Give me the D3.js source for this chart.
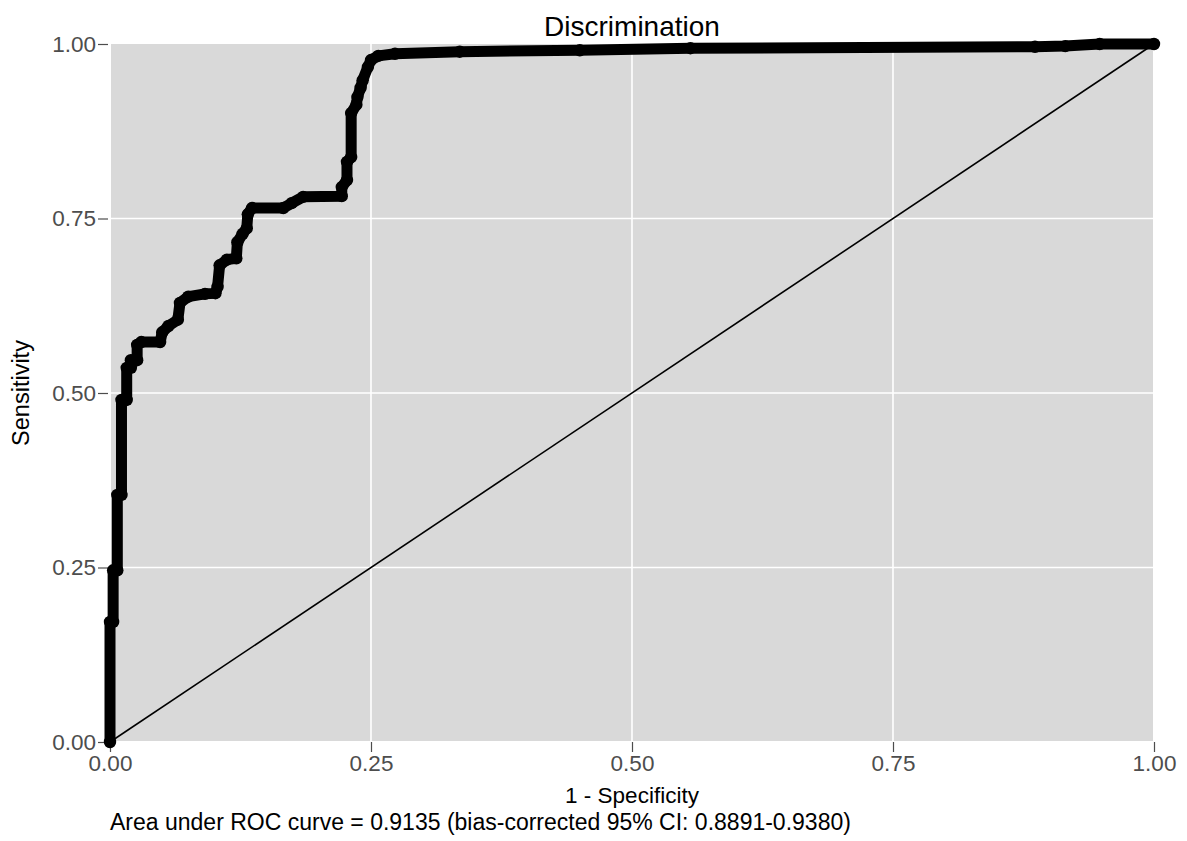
<!DOCTYPE html>
<html lang="en">
<head>
    <meta charset="UTF-8">
    <title>Discrimination</title>
    <script src="https://d3js.org/d3.v7.min.js"></script>
    <style>
        body {
            margin: 0;
            background-color: #fff;
            font-family: "Liberation Sans", Arial, sans-serif;
        }
        .tick-label {
            font-size: 22.5px;
            fill: #4d4d4d;
        }
        .axis-title {
            font-size: 22.5px;
            fill: #000;
        }
    </style>
</head>
<body>
    <div id="chart"></div>
    <script>
        // ROC curve vertices (1 - specificity, sensitivity)
        const fpr = [0, 0, 0.003, 0.003, 0.007, 0.007, 0.011, 0.011, 0.016, 0.016,
            0.020, 0.020, 0.026, 0.026, 0.030, 0.048, 0.050, 0.056, 0.065, 0.067,
            0.075, 0.091, 0.101, 0.103, 0.105, 0.112, 0.121, 0.122, 0.127, 0.131,
            0.132, 0.136, 0.166, 0.174, 0.185, 0.222, 0.222, 0.227, 0.227, 0.231,
            0.231, 0.236, 0.237, 0.240, 0.242, 0.247, 0.250, 0.257, 0.273, 0.335,
            0.450, 0.556, 0.886, 0.915, 0.948, 1];
        const tpr = [0, 0.172, 0.172, 0.246, 0.246, 0.354, 0.354, 0.490, 0.490, 0.536,
            0.536, 0.547, 0.547, 0.569, 0.573, 0.573, 0.587, 0.596, 0.605, 0.629,
            0.638, 0.642, 0.643, 0.652, 0.683, 0.691, 0.693, 0.716, 0.728, 0.736,
            0.756, 0.765, 0.765, 0.772, 0.781, 0.782, 0.795, 0.805, 0.831, 0.838,
            0.901, 0.913, 0.924, 0.937, 0.948, 0.967, 0.977, 0.983, 0.986, 0.989,
            0.991, 0.994, 0.996, 0.997, 1.0, 1];
        const ticks = [0, 0.25, 0.5, 0.75, 1];
        const titleText = "Discrimination";
        const xTitle = "1 - Specificity";
        const yTitle = "Sensitivity";
        const caption = "Area under ROC curve = 0.9135 (bias-corrected 95% CI: 0.8891-0.9380)";

        const W = 1187, H = 841;
        const pLeft = 110, pRight = 1154, pTop = 44, pBottom = 742;

        const svg = d3.select("#chart")
            .append("svg")
            .attr("width", W)
            .attr("height", H);

        const x = d3.scaleLinear().domain([0, 1]).range([pLeft, pRight]);
        const y = d3.scaleLinear().domain([0, 1]).range([pBottom, pTop]);

        // panel
        svg.append("rect")
            .attr("x", pLeft + 1)
            .attr("y", pTop)
            .attr("width", pRight - pLeft - 2)
            .attr("height", pBottom - pTop - 1)
            .attr("fill", "#d9d9d9");

        // grid
        svg.append("g")
            .selectAll("line")
            .data(ticks.slice(1, -1))
            .enter().append("line")
            .attr("x1", d => x(d)).attr("x2", d => x(d))
            .attr("y1", pTop).attr("y2", pBottom - 1)
            .attr("stroke", "#fff").attr("stroke-width", 1.6);
        svg.append("g")
            .selectAll("line")
            .data(ticks.slice(1, -1))
            .enter().append("line")
            .attr("x1", pLeft + 1).attr("x2", pRight - 1)
            .attr("y1", d => y(d)).attr("y2", d => y(d))
            .attr("stroke", "#fff").attr("stroke-width", 1.6);

        // axes
        const xAxis = svg.append("g")
            .attr("transform", `translate(0, ${pBottom})`)
            .call(d3.axisBottom(x).tickValues(ticks).tickFormat(d3.format(".2f")).tickSize(10).tickPadding(3));
        const yAxis = svg.append("g")
            .attr("transform", `translate(${pLeft - 2}, 0)`)
            .call(d3.axisLeft(y).tickValues(ticks).tickFormat(d3.format(".2f")).tickSize(10).tickPadding(2));
        [xAxis, yAxis].forEach(a => {
            a.select(".domain").remove();
            a.selectAll(".tick line").attr("stroke", "#4d4d4d").attr("stroke-width", 1.2);
            a.selectAll(".tick text").attr("class", "tick-label").attr("fill", null);
            a.attr("font-family", null).attr("font-size", null);
        });

        // diagonal reference
        svg.append("line")
            .attr("x1", x(0)).attr("y1", y(0))
            .attr("x2", x(1)).attr("y2", y(1))
            .attr("stroke", "#000").attr("stroke-width", 1.6);

        // ROC curve
        const pts = fpr.map((f, i) => ({ f: f, t: tpr[i] }));
        const line = d3.line().x(d => x(d.f)).y(d => y(d.t));
        svg.append("path")
            .datum(pts)
            .attr("d", line)
            .attr("fill", "none")
            .attr("stroke", "#000")
            .attr("stroke-width", 11)
            .attr("stroke-linejoin", "round")
            .attr("stroke-linecap", "round");
        svg.selectAll("circle.pt")
            .data(pts)
            .enter().append("circle")
            .attr("class", "pt")
            .attr("cx", d => x(d.f))
            .attr("cy", d => y(d.t))
            .attr("r", 6.2)
            .attr("fill", "#000");

        // texts
        svg.append("text")
            .attr("x", x(0.5)).attr("y", 36)
            .attr("text-anchor", "middle")
            .style("font-size", "28px")
            .text(titleText);
        svg.append("text")
            .attr("class", "axis-title")
            .attr("x", x(0.5)).attr("y", 803)
            .attr("text-anchor", "middle")
            .text(xTitle);
        svg.append("text")
            .attr("class", "axis-title")
            .attr("transform", `translate(29, ${y(0.5)}) rotate(-90)`)
            .attr("text-anchor", "middle")
            .style("font-size", "23.5px")
            .text(yTitle);
        svg.append("text")
            .attr("class", "axis-title")
            .attr("x", pLeft).attr("y", 830)
            .style("font-size", "23px")
            .text(caption);
    </script>
</body>
</html>
